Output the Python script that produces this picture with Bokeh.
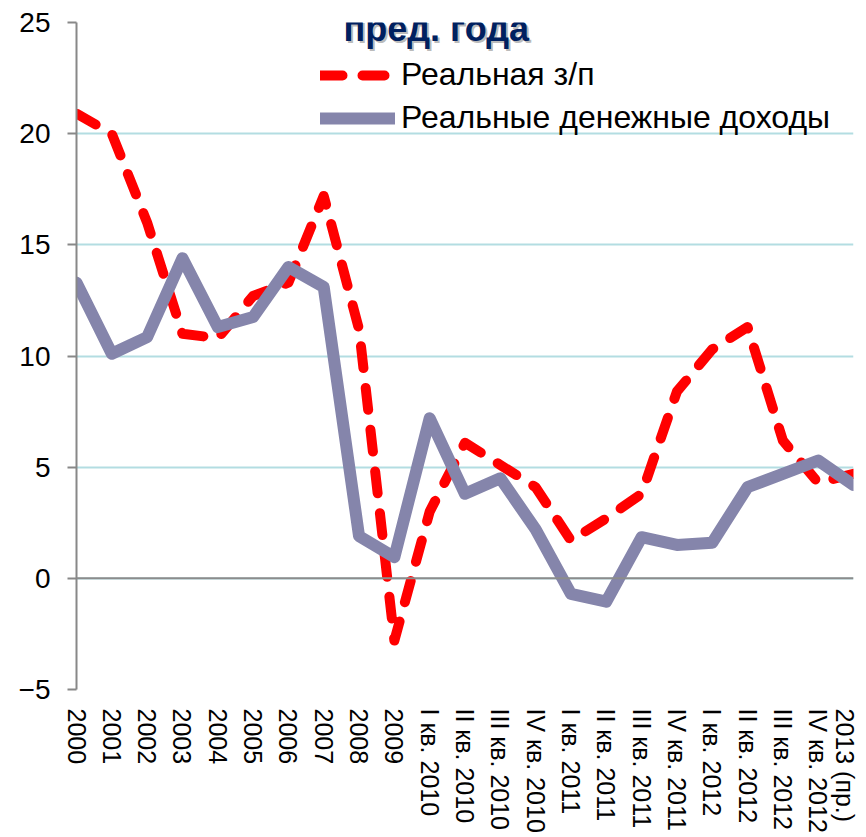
from bokeh.plotting import figure
from bokeh.models import (Legend, LegendItem, Label, Span, FixedTicker,
                          ColumnDataSource, Range1d)
from bokeh.embed import file_html
from bokeh.resources import INLINE

categories = ["2000", "2001", "2002", "2003", "2004", "2005", "2006", "2007",
              "2008", "2009",
              "I кв. 2010", "II кв. 2010", "III кв. 2010", "IV кв. 2010",
              "I кв. 2011", "II кв. 2011", "III кв. 2011", "IV кв. 2011",
              "I кв. 2012", "II кв. 2012", "III кв. 2012", "IV кв. 2012",
              "2013 (пр.)"]
wage = [20.9, 20.0, 16.0, 11.0, 10.8, 12.7, 13.3, 17.2, 11.2, -2.8,
        3.0, 6.1, 5.1, 4.1, 1.7, 2.7, 3.8, 8.4, 10.3, 11.3, 6.2, 4.3, 4.7]
income = [13.3, 10.1, 10.85, 14.4, 11.3, 11.75, 14.0, 13.1, 1.9, 0.95,
          7.2, 3.8, 4.5, 2.2, -0.7, -1.05, 1.85, 1.5, 1.6, 4.1, 4.7, 5.3, 4.2]
y_ticks = [-5, 0, 5, 10, 15, 20, 25]
series_names = ["Реальная з/п", "Реальные денежные доходы"]
title_text = "пред. года"

FONT = "Liberation Sans"

idx = list(range(len(categories)))
src = ColumnDataSource(dict(x=idx, wage=wage, income=income))

p = figure(width=858, height=837, output_backend="svg", toolbar_location=None,
           x_range=Range1d(0, len(categories) - 1),
           y_range=Range1d(y_ticks[0], y_ticks[-1]),
           min_border_left=76, min_border_right=5, min_border_top=22,
           min_border_bottom=148)
p.outline_line_color = None
p.background_fill_color = "white"
p.border_fill_color = "white"

# grid
p.xgrid.visible = False
p.ygrid.ticker = FixedTicker(ticks=y_ticks)
p.ygrid.grid_line_color = "#B3DDE2"
p.ygrid.grid_line_width = 2

# zero line
p.add_layout(Span(location=0, dimension="width", line_color="#8C8C8C",
                  line_width=2))

r_wage = p.line("x", "wage", source=src, line_color="#FF0000", line_width=10,
                line_dash="22 20", line_join="round", line_cap="round")
r_inc = p.line("x", "income", source=src, line_color="#8585AB", line_width=12,
               line_join="round", line_cap="round")

# y axis
ya = p.yaxis[0]
ya.ticker = FixedTicker(ticks=y_ticks)
ya.axis_line_color = "#888888"
ya.axis_line_width = 2
ya.major_tick_line_color = "#888888"
ya.major_tick_line_width = 2
ya.major_tick_out = 9
ya.major_tick_in = 0
ya.minor_tick_line_color = None
ya.major_label_text_font = FONT
ya.major_label_text_font_size = "28px"
ya.major_label_text_color = "black"
ya.major_label_standoff = 17

# x axis
xa = p.xaxis[0]
xa.ticker = FixedTicker(ticks=idx)
xa.major_label_overrides = {i: c for i, c in enumerate(categories)}
xa.major_label_orientation = "vertical"
xa.axis_line_color = None
xa.major_tick_line_color = None
xa.minor_tick_line_color = None
xa.major_tick_out = 0
xa.major_tick_in = 0
xa.major_label_text_font = FONT
xa.major_label_text_font_size = "25px"
xa.major_label_text_color = "black"
xa.major_label_standoff = 19

# title fragment with shadow
shadow = Label(x=7.56, y=24.33, text=title_text, text_font=FONT,
               text_font_style="bold", text_font_size="36px",
               text_color="#7f7f7f", text_alpha=0.55, x_offset=2, y_offset=7,
               text_baseline="alphabetic", background_fill_color="white")
main = Label(x=7.56, y=24.33, text=title_text, text_font=FONT,
             text_font_style="bold", text_font_size="36px",
             text_color="#002060", y_offset=9, text_baseline="alphabetic")
p.add_layout(shadow)
p.add_layout(main)

legend = Legend(items=[LegendItem(label=series_names[0], renderers=[r_wage]),
                       LegendItem(label=series_names[1], renderers=[r_inc])],
                location=(244, 553), orientation="vertical",
                glyph_width=75, glyph_height=20, label_standoff=6,
                spacing=6, padding=0, margin=0, border_line_color=None,
                background_fill_alpha=0, label_text_font=FONT,
                label_text_font_size="32px", label_text_color="black",
                label_height=36)
p.add_layout(legend)

open("out.html", "w").write(file_html(p, INLINE))
